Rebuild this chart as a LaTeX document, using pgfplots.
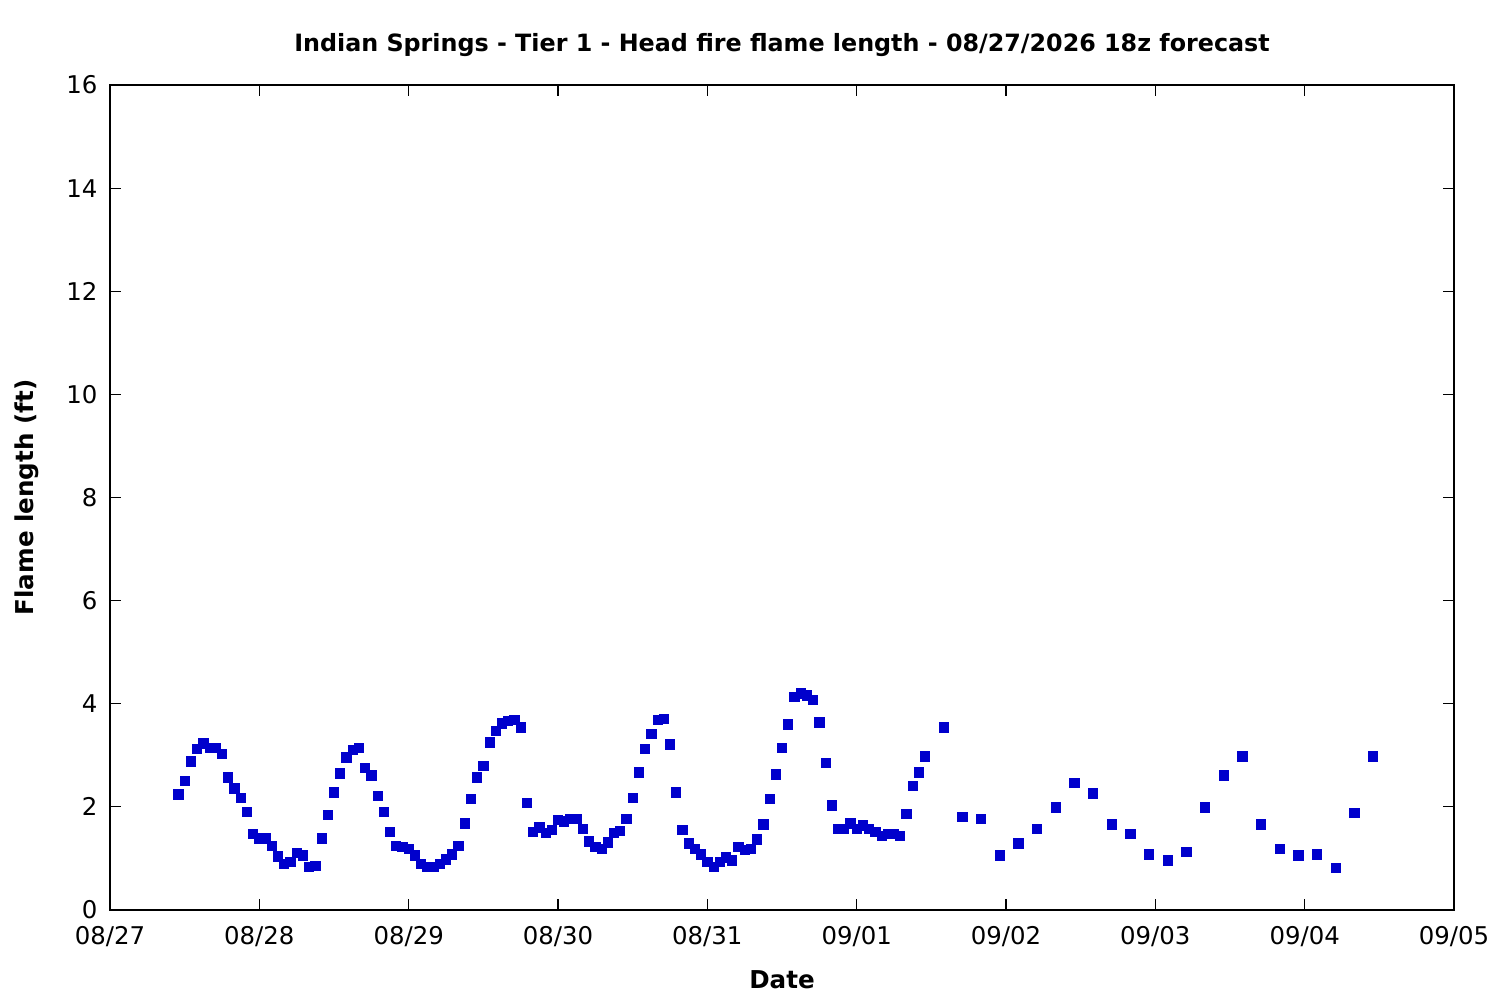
\documentclass[border=0pt]{standalone}
\usepackage{pgfplots}
\pgfplotsset{compat=1.18}
\usepackage{fontspec}
\setmainfont{DejaVu Sans}
\definecolor{ptblue}{RGB}{0,0,204}
\pgfplotstableread{
h v
11 2.24
12 2.51
13 2.88
14 3.12
15 3.23
16 3.14
17 3.14
18 3.02
19 2.57
20 2.36
21 2.17
22 1.91
23 1.47
24 1.39
25 1.39
26 1.24
27 1.04
28 0.89
29 0.94
30 1.10
31 1.06
32 0.83
33 0.85
34 1.39
35 1.84
36 2.28
37 2.65
38 2.96
39 3.10
40 3.14
41 2.75
42 2.61
43 2.21
44 1.91
45 1.51
46 1.24
47 1.22
48 1.19
49 1.06
50 0.89
51 0.83
52 0.83
53 0.89
54 0.98
55 1.08
56 1.24
57 1.68
58 2.15
59 2.57
60 2.79
61 3.25
62 3.47
63 3.62
64 3.66
65 3.68
66 3.54
67 2.07
68 1.51
69 1.60
70 1.49
71 1.55
72 1.74
73 1.72
74 1.76
75 1.76
76 1.57
77 1.33
78 1.22
79 1.18
80 1.31
81 1.49
82 1.53
83 1.76
84 2.17
85 2.67
86 3.12
87 3.41
88 3.68
89 3.70
90 3.21
91 2.28
92 1.55
93 1.29
94 1.19
95 1.08
96 0.94
97 0.83
98 0.93
99 1.02
100 0.96
101 1.22
102 1.16
103 1.19
104 1.37
105 1.66
106 2.15
107 2.63
108 3.14
109 3.60
110 4.14
111 4.20
112 4.16
113 4.07
114 3.64
115 2.85
116 2.03
117 1.58
118 1.58
119 1.68
120 1.57
121 1.64
122 1.58
123 1.51
124 1.43
125 1.47
126 1.47
127 1.43
128 1.87
129 2.40
130 2.67
131 2.98
134 3.54
137 1.80
140 1.76
143 1.06
146 1.29
149 1.58
152 1.99
155 2.46
158 2.26
161 1.66
164 1.47
167 1.08
170 0.96
173 1.12
176 1.99
179 2.61
182 2.98
185 1.66
188 1.18
191 1.06
194 1.08
197 0.81
200 1.89
203 2.98
}\flametable
\begin{document}
\fontsize{12.3pt}{14pt}\selectfont
\begin{tikzpicture}
\path[use as bounding box] (-55pt,-45pt) rectangle (695pt,455pt);
\begin{axis}[
  at={(0,0)}, anchor=south west,
  scale only axis, width=672pt, height=412.5pt,
  xmin=0, xmax=216, ymin=0, ymax=16,
  xtick={0,24,...,216},
  xticklabels={08/27,08/28,08/29,08/30,08/31,09/01,09/02,09/03,09/04,09/05},
  ytick={0,2,...,16},
  tick align=inside, tick pos=both,
  major tick length=5.5pt,
  axis line style={line width=0.6pt},
  every tick/.style={black, line width=0.6pt},
  /pgf/number format/assume math mode=true,
  tick label style={font=\fontsize{12.2pt}{14pt}\selectfont},
  xticklabel style={yshift=-4pt},
  yticklabel style={xshift=-2pt},
  title={\bfseries Indian Springs - Tier 1 - Head fire flame length - 08/27/2026 18z forecast},
  every axis title/.style={at={(axis description cs:0.5,1.048)}, anchor=center, font=\fontsize{11.9pt}{14pt}\selectfont},
  xlabel={\bfseries Date},
  every axis x label/.style={at={(axis description cs:0.5,-0.0848)}, anchor=center, font=\fontsize{12.3pt}{14pt}\selectfont},
  ylabel={\bfseries Flame length (ft)},
  every axis y label/.style={at={(axis description cs:-0.0618,0.5)}, anchor=center, rotate=90, font=\fontsize{12.3pt}{14pt}\selectfont},
]
\addplot[only marks, mark=square*, mark size=2.3pt, color=ptblue, mark options={draw=ptblue, fill=ptblue}] table[x=h, y=v] {\flametable};
\end{axis}
\end{tikzpicture}
\end{document}
